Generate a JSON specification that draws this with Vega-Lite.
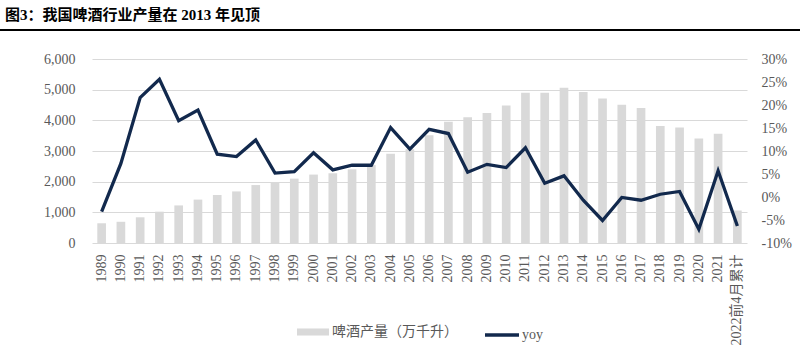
{
  "$schema": "https://vega.github.io/schema/vega-lite/v6.json",
  "background": "white",
  "padding": {"left": 0, "right": 0, "top": 8, "bottom": 0},
  "title": {
    "text": "图3：我国啤酒行业产量在 2013 年见顶",
    "anchor": "start",
    "font": "Liberation Serif, Noto Sans CJK SC",
    "fontSize": 15,
    "fontWeight": "bold",
    "color": "#000000",
    "dx": 5,
    "offset": 6
  },
  "config": {
    "view": {"stroke": null},
    "axis": {
      "labelFont": "Liberation Serif, Noto Sans CJK SC",
      "labelFontSize": 14,
      "labelColor": "#595959",
      "ticks": false,
      "tickSize": 0,
      "domain": false,
      "title": null
    },
    "legend": {
      "labelFont": "Liberation Serif, Noto Sans CJK SC",
      "labelFontSize": 14,
      "labelColor": "#595959",
      "padding": 0
    }
  },
  "spacing": 21,
  "vconcat": [
    {
      "width": 800,
      "height": 2,
      "data": {"values": [{}]},
      "mark": {"type": "rect", "color": "#000000"},
      "encoding": {},
      "view": {"stroke": null, "fill": "#000000"}
    },
    {
      "spacing": 0,
      "hconcat": [
        {
          "width": 32,
          "height": 184,
          "data": {"values": []},
          "mark": "point",
          "encoding": {},
          "view": {"stroke": null}
        },
        {
          "width": 655,
          "height": 184,
          "data": {
            "values": [
              {"year": "1989", "output": 643, "yoy": -0.032},
              {"year": "1990", "output": 692, "yoy": 0.073},
              {"year": "1991", "output": 838, "yoy": 0.216},
              {"year": "1992", "output": 1021, "yoy": 0.256},
              {"year": "1993", "output": 1225, "yoy": 0.166},
              {"year": "1994", "output": 1415, "yoy": 0.189},
              {"year": "1995", "output": 1569, "yoy": 0.093},
              {"year": "1996", "output": 1682, "yoy": 0.088},
              {"year": "1997", "output": 1889, "yoy": 0.124},
              {"year": "1998", "output": 1988, "yoy": 0.052},
              {"year": "1999", "output": 2099, "yoy": 0.055},
              {"year": "2000", "output": 2231, "yoy": 0.096},
              {"year": "2001", "output": 2274, "yoy": 0.059},
              {"year": "2002", "output": 2403, "yoy": 0.069},
              {"year": "2003", "output": 2540, "yoy": 0.069},
              {"year": "2004", "output": 2910, "yoy": 0.151},
              {"year": "2005", "output": 3061, "yoy": 0.104},
              {"year": "2006", "output": 3515, "yoy": 0.147},
              {"year": "2007", "output": 3954, "yoy": 0.138},
              {"year": "2008", "output": 4103, "yoy": 0.054},
              {"year": "2009", "output": 4236, "yoy": 0.071},
              {"year": "2010", "output": 4483, "yoy": 0.064},
              {"year": "2011", "output": 4899, "yoy": 0.107},
              {"year": "2012", "output": 4902, "yoy": 0.030},
              {"year": "2013", "output": 5062, "yoy": 0.046},
              {"year": "2014", "output": 4922, "yoy": -0.007},
              {"year": "2015", "output": 4715, "yoy": -0.051},
              {"year": "2016", "output": 4506, "yoy": -0.001},
              {"year": "2017", "output": 4401, "yoy": -0.007},
              {"year": "2018", "output": 3812, "yoy": 0.006},
              {"year": "2019", "output": 3765, "yoy": 0.012},
              {"year": "2020", "output": 3411, "yoy": -0.070},
              {"year": "2021", "output": 3562, "yoy": 0.057},
              {"year": "2022前4月累计", "output": 1060, "yoy": -0.063}
            ]
          },
          "encoding": {
            "x": {
              "field": "year",
              "type": "ordinal",
              "sort": null,
              "scale": {"paddingInner": 0.55, "paddingOuter": 0.275},
              "axis": {"labelAngle": -90, "labelPadding": 11, "labelLimit": 200}
            }
          },
          "layer": [
            {
              "mark": {"type": "bar"},
              "encoding": {
                "y": {
                  "field": "output",
                  "type": "quantitative",
                  "scale": {"domain": [0, 6000], "nice": false},
                  "axis": {
                    "orient": "left",
                    "values": [0, 1000, 2000, 3000, 4000, 5000, 6000],
                    "format": ",.0f",
                    "grid": true,
                    "gridColor": "#d9d9d9",
                    "gridWidth": 1,
                    "labelPadding": 17,
                    "minExtent": 60
                  }
                },
                "fill": {
                  "datum": "啤酒产量（万千升）",
                  "type": "nominal",
                  "scale": {"range": ["#d9d9d9"]},
                  "legend": {
                    "title": null,
                    "orient": "none",
                    "legendX": 297,
                    "legendY": 287,
                    "direction": "horizontal",
                    "symbolType": "M-1,-0.22H1V0.22H-1Z",
                    "symbolSize": 1024,
                    "symbolStrokeWidth": 0,
                    "labelOffset": 3
                  }
                }
              }
            },
            {
              "mark": {"type": "line", "strokeWidth": 3.3, "strokeJoin": "miter"},
              "encoding": {
                "y": {
                  "field": "yoy",
                  "type": "quantitative",
                  "scale": {"domain": [-0.1, 0.3], "nice": false},
                  "axis": {
                    "orient": "right",
                    "values": [-0.1, -0.05, 0, 0.05, 0.1, 0.15, 0.2, 0.25, 0.3],
                    "format": ".0%",
                    "labelExpr": "replace(datum.label, '\u2212', '-')",
                    "grid": false,
                    "labelPadding": 14
                  }
                },
                "stroke": {
                  "datum": "yoy",
                  "type": "nominal",
                  "scale": {"range": ["#12294d"]},
                  "legend": {
                    "title": null,
                    "orient": "none",
                    "legendX": 483,
                    "legendY": 287,
                    "direction": "horizontal",
                    "symbolType": "stroke",
                    "symbolSize": 1156,
                    "symbolStrokeWidth": 3.5,
                    "labelOffset": 1
                  }
                }
              }
            }
          ],
          "resolve": {"scale": {"y": "independent"}}
        }
      ]
    }
  ]
}
